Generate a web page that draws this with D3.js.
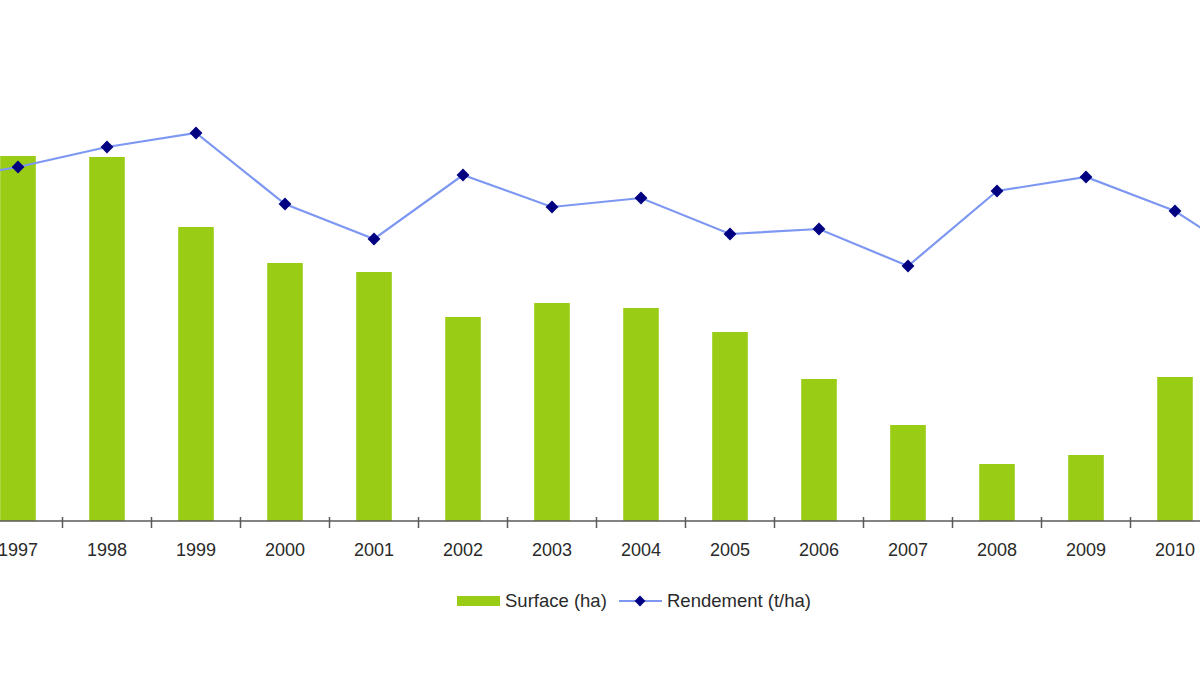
<!DOCTYPE html>
<html>
<head>
<meta charset="utf-8">
<script src="https://d3js.org/d3.v7.min.js"></script>
<style>
  body{margin:0;background:#fff;}
  text{font-family:"Liberation Sans",Arial,sans-serif;fill:#2a2a2a;}
</style>
</head>
<body>
<svg id="chart" width="1200" height="675"></svg>
<script>
// years (1996 and 2011 fall just outside the cropped frame)
var years=['1996','1997','1998','1999','2000','2001','2002','2003','2004','2005','2006','2007','2008','2009','2010','2011'];
var surface=[null,36500,36400,29400,25800,24900,20400,21800,21300,18900,14200,9600,5700,6600,14400,null];
var rendement=[6.76,7.08,7.48,7.76,6.34,5.64,6.92,6.28,6.46,5.74,5.84,5.10,6.60,6.88,6.20,5.04];
var labels=['Surface (ha)','Rendement (t/ha)'];

var W=1200,H=675,base=521,step=89,first=18;
var svg=d3.select('#chart');

var x=d3.scaleBand().domain(years)
        .range([first-step*1.5,first-step*1.5+step*years.length])
        .paddingInner(0.6).paddingOuter(0.3);
var yS=d3.scaleLinear().domain([0,40000]).range([base,121]);
var yR=d3.scaleLinear().domain([0,8]).range([base,121]);
var bw=x.bandwidth();

// bars
svg.append('g').selectAll('rect')
   .data(years.map(function(y,i){return {y:y,v:surface[i]};}).filter(function(d){return d.v!=null;}))
   .enter().append('rect')
   .attr('x',function(d){return x(d.y);})
   .attr('y',function(d){return yS(d.v);})
   .attr('width',bw)
   .attr('height',function(d){return base-yS(d.v);})
   .attr('fill','#99cc14');

// axis line + ticks between categories
var ax=svg.append('g');
ax.append('line').attr('x1',0).attr('x2',W).attr('y1',base).attr('y2',base)
  .attr('stroke','#5a5a5a').attr('stroke-width',1.5);
ax.selectAll('.tk').data(years).enter().append('line')
  .attr('x1',function(d){return x(d)+bw/2+step/2;})
  .attr('x2',function(d){return x(d)+bw/2+step/2;})
  .attr('y1',base-4).attr('y2',base+7)
  .attr('stroke','#5a5a5a').attr('stroke-width',1.5);
ax.selectAll('.lb').data(years).enter().append('text')
  .attr('x',function(d){return x(d)+bw/2;})
  .attr('y',base+35)
  .attr('text-anchor','middle')
  .style('font-size','18px')
  .text(function(d){return d;});

// rendement line
var pts=years.map(function(y,i){return [x(y)+bw/2,yR(rendement[i])];});
svg.append('path').datum(pts)
   .attr('d',d3.line())
   .attr('fill','none').attr('stroke','#7d97f2').attr('stroke-width',2.2);
var diamond=d3.symbol().type(d3.symbolDiamond2).size(105);
svg.append('g').selectAll('path').data(pts).enter().append('path')
   .attr('d',diamond)
   .attr('transform',function(d){return 'translate('+d[0]+','+d[1]+')';})
   .attr('fill','#000080');

// legend
var lg=svg.append('g');
lg.append('rect').attr('x',457).attr('y',596).attr('width',43).attr('height',10).attr('fill','#99cc14');
lg.append('text').attr('x',505).attr('y',607).style('font-size','18.5px').text(labels[0]);
lg.append('line').attr('x1',619).attr('x2',662).attr('y1',601).attr('y2',601)
  .attr('stroke','#7d97f2').attr('stroke-width',2);
lg.append('path').attr('d',d3.symbol().type(d3.symbolDiamond2).size(75))
  .attr('transform','translate(640,601)').attr('fill','#000080');
lg.append('text').attr('x',667).attr('y',607).style('font-size','18.5px').text(labels[1]);
</script>
</body>
</html>
